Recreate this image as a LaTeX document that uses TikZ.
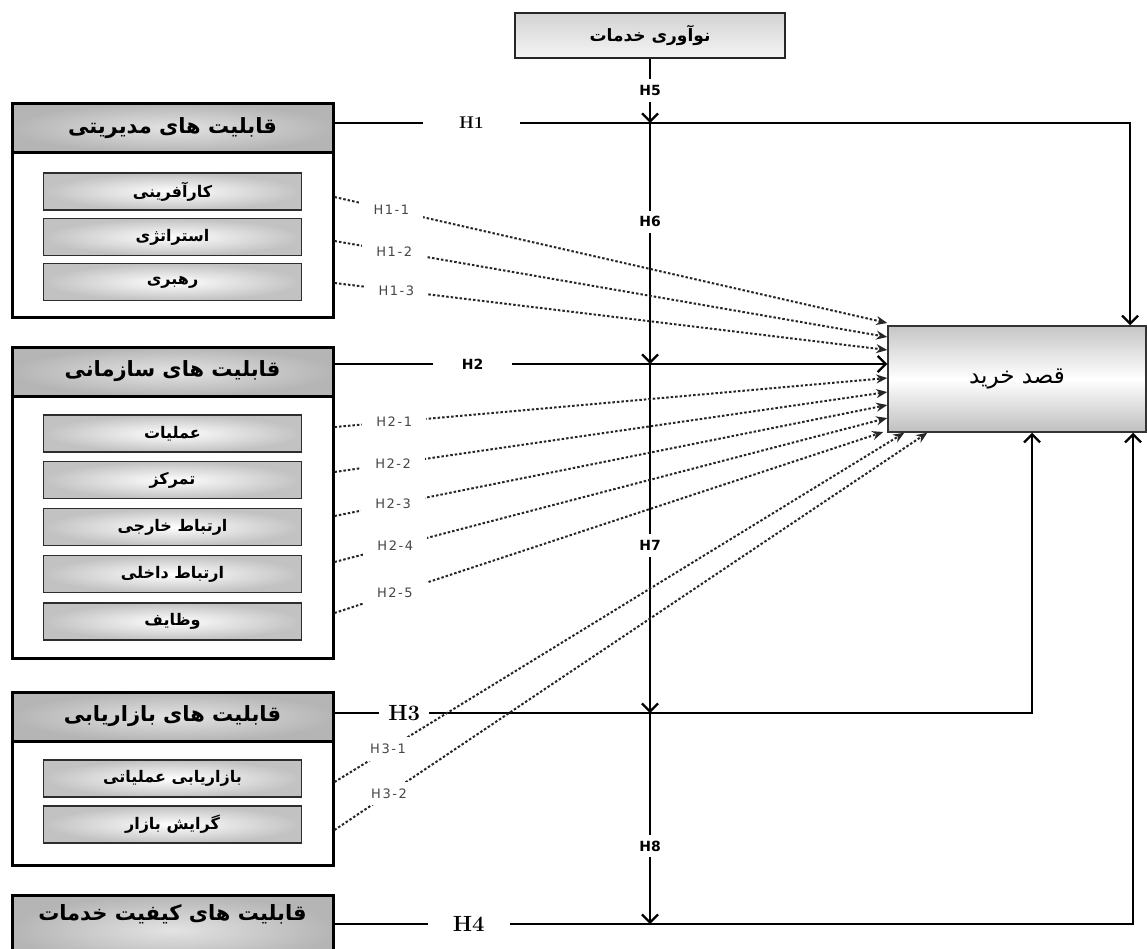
\documentclass[tikz,border=0pt]{standalone}
\usepackage{fontspec}
\usetikzlibrary{calc,arrows.meta}
\newfontfamily\fa[Script=Arabic]{DejaVu Sans}
\newfontfamily\labfont[LetterSpace=12]{DejaVu Sans}
\newfontfamily\hfont{DejaVu Sans}
\TeXXeTstate=1
\newcommand{\pers}[1]{{\fa\beginR #1\endR}}
\tikzstyle{outerbox}=[draw=black, line width=3pt, minimum width=321pt, inner sep=0, fill=white]
\tikzstyle{hdrbox}=[draw=black, line width=3pt, minimum width=321pt, minimum height=49pt, inner color=gray!22, outer color=gray!58, font=\bfseries\fontsize{21}{24}\selectfont]
\tikzstyle{subbox}=[draw=gray!35!black, line width=1.3pt, minimum width=258pt, minimum height=37pt, inner color=white, outer color=gray!48, font=\bfseries\fontsize{16}{18}\selectfont]
\tikzstyle{goalbox}=[draw=gray!40!black, line width=1.5pt, minimum width=258pt, minimum height=106pt, top color=gray!45, bottom color=gray!50, middle color=white, font=\fontsize{23}{26}\selectfont]
\tikzstyle{innovbox}=[draw=gray!30!black, line width=2pt, minimum width=270pt, minimum height=45pt, top color=gray!35, bottom color=gray!8, font=\bfseries\fontsize{17}{20}\selectfont]
\tikzstyle{conn}=[line width=2.3pt, -{Straight Barb[length=8pt,width=16pt]}]
\tikzstyle{dotarr}=[line width=2pt, black!85, dash pattern=on 2.5pt off 2pt, -{Stealth[length=11pt,width=9pt]}]
\tikzstyle{hlab}=[fill=white, inner ysep=3pt]
\tikzstyle{vlab}=[fill=white, inner xsep=2pt, inner ysep=6pt, font=\hfont\bfseries\fontsize{14}{16}\selectfont]
\tikzstyle{dlab}=[fill=white, inner xsep=14pt, inner ysep=7pt, text=gray!55!black, font=\labfont\fontsize{13}{15}\selectfont]

\begin{document}
\begin{tikzpicture}[x=1pt,y=-1pt]
\useasboundingbox (0,0) rectangle (1147,948);

% service innovation and purchase intention
\node[innovbox] (innov) at (650,35.5) {\pers{نوآوری خدمات}};
\node[goalbox] (qasd) at (1017,379) {\pers{قصد خرید}};

% managerial capabilities
\node[outerbox, minimum height=214pt] (mng) at (172.5,210) {};
\node[hdrbox] (mngh) at (172.5,128) {\pers{قابلیت های مدیریتی}};
\foreach \n/\y/\t in {kar/191.5/کارآفرینی, est/237/استراتژی, rah/282/رهبری}
	\node[subbox] (\n) at (172.5,\y) {\pers{\t}};

% organizational capabilities
\node[outerbox, minimum height=311pt] (org) at (172.5,502.5) {};
\node[hdrbox] (orgh) at (172.5,371.5) {\pers{قابلیت های سازمانی}};
\foreach \n/\y/\t in {amal/433.5/عملیات, tamarkoz/480/تمرکز, kharej/527/ارتباط خارجی, dakhel/574/ارتباط داخلی, vazayef/621.5/وظایف}
	\node[subbox] (\n) at (172.5,\y) {\pers{\t}};

% marketing capabilities
\node[outerbox, minimum height=173pt] (mkt) at (172.5,778.5) {};
\node[hdrbox] (mkth) at (172.5,716.5) {\pers{قابلیت های بازاریابی}};
\foreach \n/\y/\t in {amalyati/778.5/بازاریابی عملیاتی, gerayesh/824.5/گرایش بازار}
	\node[subbox] (\n) at (172.5,\y) {\pers{\t}};

% service quality capabilities
\node[hdrbox, minimum height=70pt] (kfy) at (172.5,930) {};
\node[font=\bfseries\fontsize{21}{24}\selectfont] (kfyt) at (172.5,914) {\pers{قابلیت های کیفیت خدمات}};

% main paths
\draw[conn] ($(mngh.east)+(0,-5)$) coordinate (h1s) -| node[hlab, inner xsep=36pt, pos=.086, font=\bfseries\fontsize{17}{20}\selectfont]{H1} ($(qasd.north)+(113,0)$);
\draw[conn] ($(orgh.east)+(0,-7.5)$) coordinate (h2s) -- node[hlab, inner xsep=29pt, pos=.25, font=\hfont\bfseries\fontsize{14}{16}\selectfont]{H2} (h2s -| qasd.west);
\draw[conn] ($(mkth.east)+(0,-3.5)$) coordinate (h3s) -| node[hlab, inner xsep=9pt, pos=.05, font=\bfseries\fontsize{22}{24}\selectfont]{H3} ($(qasd.south)+(15,0)$);
\draw[conn] ($(kfy.east)+(0,-6)$) coordinate (h4s) -| node[hlab, inner xsep=25pt, pos=.084, font=\bfseries\fontsize{22}{24}\selectfont]{H4} ($(qasd.south)+(116,0)$);

% moderating line
\draw[conn] (innov.south) -- node[vlab, pos=.49]{H5} (innov.south |- h1s);
\draw[conn] (innov.south |- h1s) -- node[vlab, pos=.41]{H6} (innov.south |- h2s);
\draw[conn] (innov.south |- h2s) -- node[vlab, pos=.52]{H7} (innov.south |- h3s);
\draw[conn] (innov.south |- h3s) -- node[vlab, pos=.63]{H8} (innov.south |- h4s);

% sub-hypotheses
\foreach \bx/\s/\dy/\e/\ex/\ey/\lab/\p in {
	mng/kar/5.5/qasd.west/0/-56/H1-1/.103,
	mng/est/4/qasd.west/0/-42/H1-2/.108,
	mng/rah/1/qasd.west/0/-29/H1-3/.112,
	org/amal/-6.5/qasd.west/0/-1/H2-1/.108,
	org/tamarkoz/-8/qasd.west/0/13/H2-2/.106,
	org/kharej/-11/qasd.west/0/26/H2-3/.106,
	org/dakhel/-12/qasd.west/0/39/H2-4/.11,
	org/vazayef/-8.5/qasd.west/-4/53/H2-5/.11,
	mkt/amalyati/3.5/qasd.south west/17/0/H3-1/.094,
	mkt/gerayesh/5.5/qasd.south west/40/0/H3-2/.092}
	\draw[dotarr] ($(\bx.east |- \s.east)+(0,\dy)$) -- node[dlab, pos=\p]{\lab} ($(\e)+(\ex,\ey)$);
\end{tikzpicture}
\end{document}
